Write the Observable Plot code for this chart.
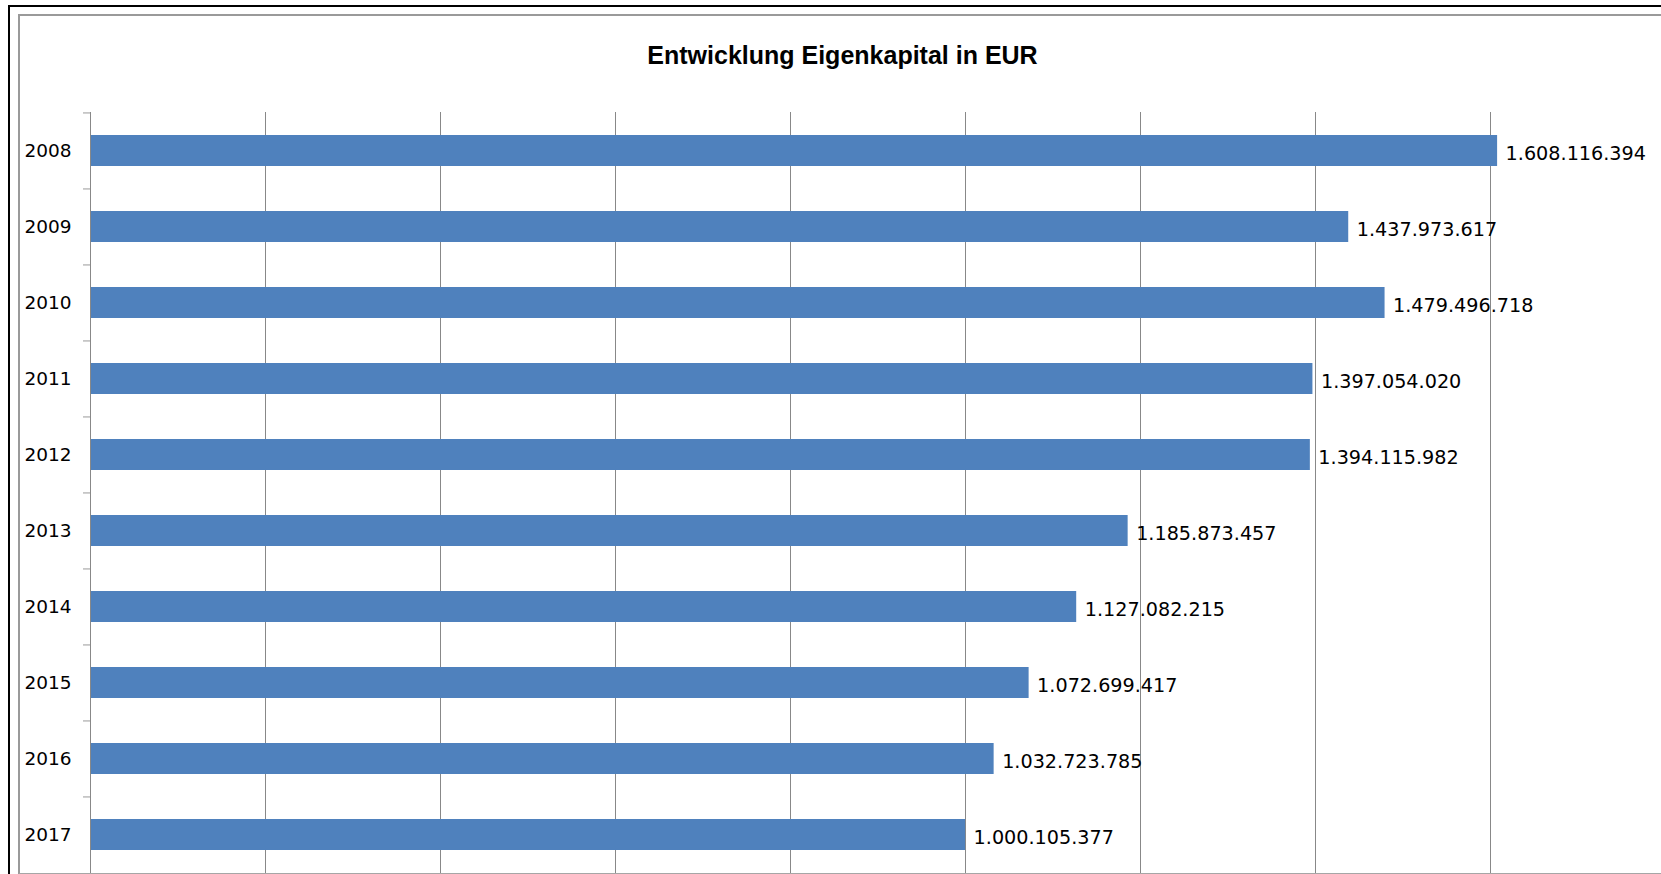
<!DOCTYPE html>
<html>
<head>
<meta charset="utf-8">
<script src="https://cdn.jsdelivr.net/npm/d3@7"></script>
<script src="https://cdn.jsdelivr.net/npm/@observablehq/plot@0.6"></script>
<style>
  html, body { margin: 0; padding: 0; overflow: hidden; background: #fff; width: 1661px; height: 874px; }
  #wrap { position: relative; width: 1661px; height: 874px; overflow: hidden; }
  #chart { position: absolute; left: 0; top: 0; width: 1700px; }
  #chart svg { max-width: none !important; }
  #title { position: absolute; left: 0; top: 43px; width: 1685px; text-align: center;
           font: bold 25px "Liberation Sans", Arial, sans-serif; line-height: 1; color: #000; }
  .outer { position: absolute; left: 8px; top: 5px; width: 3000px; height: 3000px;
           border-left: 2px solid #000; border-top: 2px solid #000; pointer-events: none; }
  .inner { position: absolute; left: 18px; top: 14px; width: 3000px; height: 857px;
           border-left: 2px solid #9a9a9a; border-top: 2px solid #9a9a9a; border-bottom: 2px solid #a6a6a6; pointer-events: none; }
</style>
</head>
<body>
<div id="wrap">
  <div id="chart"></div>
  <div id="title">Entwicklung Eigenkapital in EUR</div>
  <div class="outer"></div>
  <div class="inner"></div>
</div>
<script>
const years = ["2008", "2009", "2010", "2011", "2012", "2013", "2014", "2015", "2016", "2017"];
const values = [1608116394, 1437973617, 1479496718, 1397054020, 1394115982, 1185873457, 1127082215, 1072699417, 1032723785, 1000105377];
const gridTicks = [0, 200000000, 400000000, 600000000, 800000000, 1000000000, 1200000000, 1400000000, 1600000000, 1800000000];

const data = years.map((year, i) => ({year, value: values[i]}));
const de = d3.formatLocale({decimal: ",", thousands: ".", grouping: [3], currency: ["", " €"]});
const fmt = de.format(",d");

const chart = Plot.plot({
  width: 1666,
  height: 874,
  marginLeft: 90,
  marginRight: 1,
  marginTop: 112,
  marginBottom: 1,
  style: {fontFamily: "'DejaVu Sans', sans-serif", fontSize: "18px", color: "#000", background: "transparent", maxWidth: "none"},
  x: {domain: [0, 1800000000], axis: null, label: null},
  y: {domain: years, paddingInner: 0.59, paddingOuter: 0.295, axis: null, label: null},
  marks: [
    Plot.gridX(gridTicks, {stroke: "#888", strokeOpacity: 1, strokeWidth: 1}),
    Plot.barX(data, {x: "value", y: "year", fill: "#4F81BD"}),
    Plot.ruleX([0], {stroke: "#888", strokeWidth: 1}),
    Plot.axisY({tickSize: 7, text: null, label: null, dy: -38.05, stroke: "#999"}),
    Plot.axisY({tickSize: 0, tickPadding: 19, fontSize: 18.5, fill: "#000", label: null}),
    Plot.text(data, {x: "value", y: "year", text: d => fmt(d.value), textAnchor: "start", dx: 8, dy: 3, fontSize: 19.2, fill: "#000"})
  ]
});
document.getElementById("chart").appendChild(chart);
</script>
</body>
</html>
